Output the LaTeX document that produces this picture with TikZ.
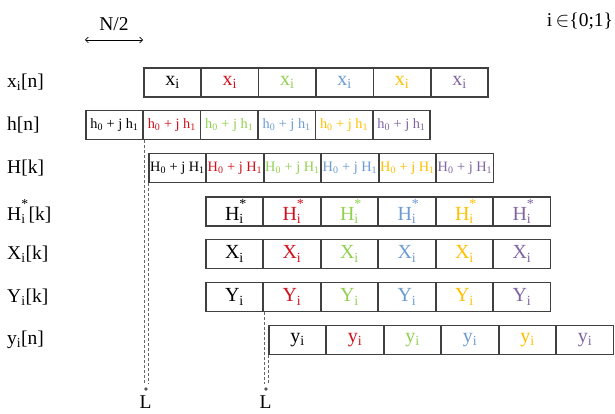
\documentclass[tikz,border=0pt]{standalone}
\usepackage{fontspec}
\setmainfont{Liberation Serif}
\usetikzlibrary{arrows.meta}
\definecolor{cborder}{HTML}{404040}
\definecolor{cred}{HTML}{D0101C}
\definecolor{cgreen}{HTML}{92D050}
\definecolor{cblue}{HTML}{6C9BD2}
\definecolor{cyellow}{HTML}{FFC000}
\definecolor{cpurple}{HTML}{8064A2}
\newcommand{\hstar}{H\rlap{\raisebox{0.25em}{\textsuperscript{*}}}\textsubscript{i}}
\begin{document}
\begin{tikzpicture}[x=1pt,y=-1pt,
  cell/.style={draw=cborder, line width=1.5pt, minimum width=57.4pt, minimum height=29pt, inner sep=0pt, anchor=west, font=\fontsize{20}{20}\selectfont},
  smallcell/.style={cell, font=\fontsize{14.3}{14}\selectfont},
  rowlabel/.style={anchor=west, inner sep=0pt, font=\fontsize{19.5}{19.5}\selectfont},
  txt/.style={inner sep=0pt, font=\fontsize{19.5}{19.5}\selectfont},
  guide/.style={draw=gray!80!black, line width=0.7pt, dash pattern=on 3pt off 2pt}]
\useasboundingbox (0,0) rectangle (615,414);
% top labels
\coordinate (na) at (85,40);
\coordinate (nb) at (143,40);
\draw[line width=0.6pt, {Straight Barb[length=3pt,width=6pt]}-{Straight Barb[length=3pt,width=6pt]}] (na) -- (nb);
\node[txt] (n2) at (114,24) {N/2};
\node[txt] (iset) at (580,21) {i\,$\in$\{0;1\}};
% row labels
\node[rowlabel] (lx) at (7,82.5) {x\textsubscript{i}[n]};
\node[rowlabel] (lh) at (7,125) {h[n]};
\node[rowlabel] (lH) at (7,168) {H[k]};
\node[rowlabel] (lHs) at (7,211.5) {H\rlap{\raisebox{0.25em}{\textsuperscript{*}}}\textsubscript{i}\hspace{3pt}[k]};
\node[rowlabel] (lX) at (7,254) {X\textsubscript{i}[k]};
\node[rowlabel] (lY) at (7,297) {Y\textsubscript{i}[k]};
\node[rowlabel] (ly) at (7,340) {y\textsubscript{i}[n]};
% rows
\foreach \c [count=\k from 0] in {black,cred,cgreen,cblue,cyellow,cpurple}{
  \node[cell,text=\c] (x\k) at ({143+57.4*\k},82.5) {x\textsubscript{i}};
  \node[smallcell,text=\c] (h\k) at ({85+57.4*\k},125) {h\textsubscript{0} + j h\textsubscript{1}};
  \node[smallcell,text=\c] (H\k) at ({148+57.5*\k},168) {H\textsubscript{0} + j H\textsubscript{1}};
  \node[cell,text=\c] (Hs\k) at ({205+57.5*\k},211.5) {\hstar};
  \node[cell,text=\c] (X\k) at ({205+57.5*\k},254) {X\textsubscript{i}};
  \node[cell,text=\c] (Y\k) at ({205+57.5*\k},297) {Y\textsubscript{i}};
  \node[cell,text=\c] (y\k) at ({268+57.5*\k},340) {y\textsubscript{i}};
}
% guides
\coordinate (bot) at (0,384);
\coordinate (mk) at (0,389);
\draw[guide] (h0.south east) -- (h0.south east |- bot);
\draw[guide] (H0.south west) -- (H0.south west |- bot);
\draw[guide] (Y0.south east) -- (Y0.south east |- bot);
\draw[guide] (y0.south west) -- (y0.south west |- bot);
\draw[line width=0.5pt, gray!70!black, {Stealth[length=2.5pt,width=4pt,open]}-{Stealth[length=2.5pt,width=4pt,open]}] (h0.south east |- mk) -- (H0.south west |- mk);
\draw[line width=0.5pt, gray!70!black, {Stealth[length=2.5pt,width=4pt,open]}-{Stealth[length=2.5pt,width=4pt,open]}] (Y0.south east |- mk) -- (y0.south west |- mk);
\node[txt] (L1) at (145.5,402.5) {L};
\node[txt] (L2) at (265.5,402.5) {L};
\end{tikzpicture}
\end{document}
